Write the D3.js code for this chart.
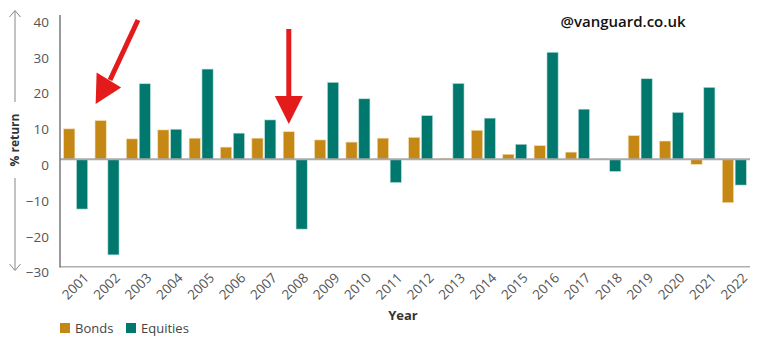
<!DOCTYPE html>
<html>
<head>
<meta charset="utf-8">
<script src="https://cdn.jsdelivr.net/npm/d3@7"></script>
<style>
  html, body { margin: 0; padding: 0; background: #fff; }
  svg { display: block; font-family: "Open Sans", "Noto Sans", sans-serif; }
</style>
</head>
<body>
<svg id="chart" width="766" height="350"></svg>
<script>
// Annual % returns, UK bonds vs equities
const years = ["2001","2002","2003","2004","2005","2006","2007","2008","2009","2010","2011",
               "2012","2013","2014","2015","2016","2017","2018","2019","2020","2021","2022"];
const bonds    = [8.5, 10.8, 5.7, 8.2, 5.9, 3.4, 5.9, 7.7, 5.4, 4.8, 5.9,
                  6.1, 0.2, 8.1, 1.4, 3.8, 2.0, 0.1, 6.6, 5.1, -1.4, -12.1];
const equities = [-13.9, -26.7, 21.1, 8.4, 25.2, 7.3, 11.0, -19.5, 21.5, 16.9, -6.5,
                  12.2, 21.2, 11.5, 4.2, 29.9, 14.0, -3.4, 22.5, 13.1, 20.1, -7.2];
const seriesNames = ["Bonds", "Equities"];
const yTicks = [-30, -20, -10, 0, 10, 20, 30, 40];
// Years singled out with an arrow
const highlighted = ["2002", "2008"];

const colors = { Bonds: "#C68815", Equities: "#00786E" };

const svg = d3.select("#chart");
const left = 60, right = 750;

const x0 = d3.scaleBand().domain(years).range([left, right])
  .paddingInner(0.235).paddingOuter(0.1175);
const x1 = d3.scaleBand().domain(seriesNames).range([0, x0.bandwidth()]).paddingInner(0.13);
const y = d3.scaleLinear().domain([-30, 40]).range([266.7, 16.1]);

const rows = years.map((yr, i) => ({ year: yr, Bonds: bonds[i], Equities: equities[i] }));

// Bars
const groups = svg.append("g").selectAll("g").data(rows).join("g")
  .attr("transform", d => `translate(${x0(d.year)},0)`);
groups.selectAll("rect")
  .data(d => seriesNames.map(k => ({ key: k, value: d[k] })))
  .join("rect")
  .attr("x", d => x1(d.key))
  .attr("width", x1.bandwidth())
  .attr("y", d => y(Math.max(0, d.value)))
  .attr("height", d => Math.abs(y(d.value) - y(0)))
  .attr("fill", d => colors[d.key])
  .attr("stroke", d => d.key === "Bonds" ? "#f1d9a8" : "#b9e0dc")
  .attr("stroke-width", 0.6);

// Zero line and bottom baseline
svg.append("line").attr("x1", left).attr("x2", right)
  .attr("y1", y(0)).attr("y2", y(0))
  .attr("stroke", "#aaaaaa").attr("stroke-width", 2);
svg.append("line").attr("x1", left).attr("x2", right)
  .attr("y1", y(-30)).attr("y2", y(-30))
  .attr("stroke", "#b0b0b0").attr("stroke-width", 1.6);
// Left axis line
svg.append("line").attr("x1", left).attr("x2", left)
  .attr("y1", 15).attr("y2", y(-30) + 0.8)
  .attr("stroke", "#777").attr("stroke-width", 1.5);

// Y axis tick labels
const yAxis = svg.append("g").attr("transform", `translate(${left},0)`)
  .call(d3.axisLeft(y).tickValues(yTicks).tickSize(0).tickPadding(11));
yAxis.select(".domain").remove();
yAxis.selectAll("text")
  .attr("font-size", 13.5).attr("fill", "#555")
  .attr("font-family", "'Open Sans', sans-serif")
  .attr("dy", "0.75em");

// X axis tick labels, rotated
const xAxis = svg.append("g").attr("transform", `translate(0,${y(-30)})`)
  .call(d3.axisBottom(x0).tickSize(0).tickPadding(0));
xAxis.select(".domain").remove();
xAxis.selectAll("text")
  .attr("font-size", 13.5).attr("fill", "#555")
  .attr("font-family", "'Open Sans', sans-serif")
  .attr("text-anchor", "end")
  .attr("dy", 0).attr("y", 0).attr("x", 0)
  .attr("transform", `translate(${x0.bandwidth() / 2 + 2},${12}) rotate(-45)`);

// Y axis title with direction arrows
svg.append("text")
  .attr("transform", "translate(14,140) rotate(-90)")
  .attr("text-anchor", "middle").attr("dominant-baseline", "central")
  .attr("font-size", 12).attr("font-weight", 700).attr("fill", "#333")
  .text("% return");
const ax = svg.append("g").attr("stroke", "#888").attr("stroke-width", 1).attr("fill", "none");
ax.append("line").attr("x1", 15).attr("x2", 15).attr("y1", 102).attr("y2", 11);
ax.append("path").attr("d", "M9.5,17 L15,10.5 L20.5,17");
ax.append("line").attr("x1", 15).attr("x2", 15).attr("y1", 178).attr("y2", 270);
ax.append("path").attr("d", "M9.5,264 L15,270.5 L20.5,264");

// X axis title
svg.append("text").attr("x", 403).attr("y", 320)
  .attr("text-anchor", "middle").attr("font-size", 13).attr("font-weight", 700).attr("fill", "#333")
  .text("Year");

// Legend
const legend = svg.append("g").attr("transform", "translate(60,323)");
const legendX = [0, 66];
seriesNames.forEach((k, i) => {
  const g = legend.append("g").attr("transform", `translate(${legendX[i]},0)`);
  g.append("rect").attr("width", 10).attr("height", 10).attr("fill", colors[k]);
  g.append("text").attr("x", 15).attr("y", 5).attr("dominant-baseline", "central")
    .attr("font-size", 13).attr("fill", "#444").text(k);
});

// Source handle
svg.append("text").attr("x", 623).attr("y", 27)
  .attr("text-anchor", "middle").attr("font-size", 15).attr("font-weight", 600).attr("fill", "#111")
  .text("@vanguard.co.uk");

// Red arrows pointing at the highlighted years
const red = "#E31B1B";
const a1 = x0(highlighted[0]) + x1("Bonds") + x1.bandwidth() / 2; // 2002 bond bar centre
const a2 = x0(highlighted[1]) + x1("Bonds") + x1.bandwidth() / 2; // 2008 bond bar centre
const arrows = svg.append("g");
// diagonal arrow toward 2002
arrows.append("line").attr("x1", 138).attr("y1", 20).attr("x2", 110).attr("y2", 80)
  .attr("stroke", red).attr("stroke-width", 5);
arrows.append("path").attr("d", `M${a1 - 5},104 L${a1 - 4},72.5 L${a1 + 20.5},87.5 Z`).attr("fill", red);
// vertical arrow toward 2008
arrows.append("line").attr("x1", a2).attr("y1", 29).attr("x2", a2).attr("y2", 98)
  .attr("stroke", red).attr("stroke-width", 5);
arrows.append("path").attr("d", `M${a2 - 14},96 L${a2 + 14},96 L${a2},124 Z`).attr("fill", red);
</script>
</body>
</html>
